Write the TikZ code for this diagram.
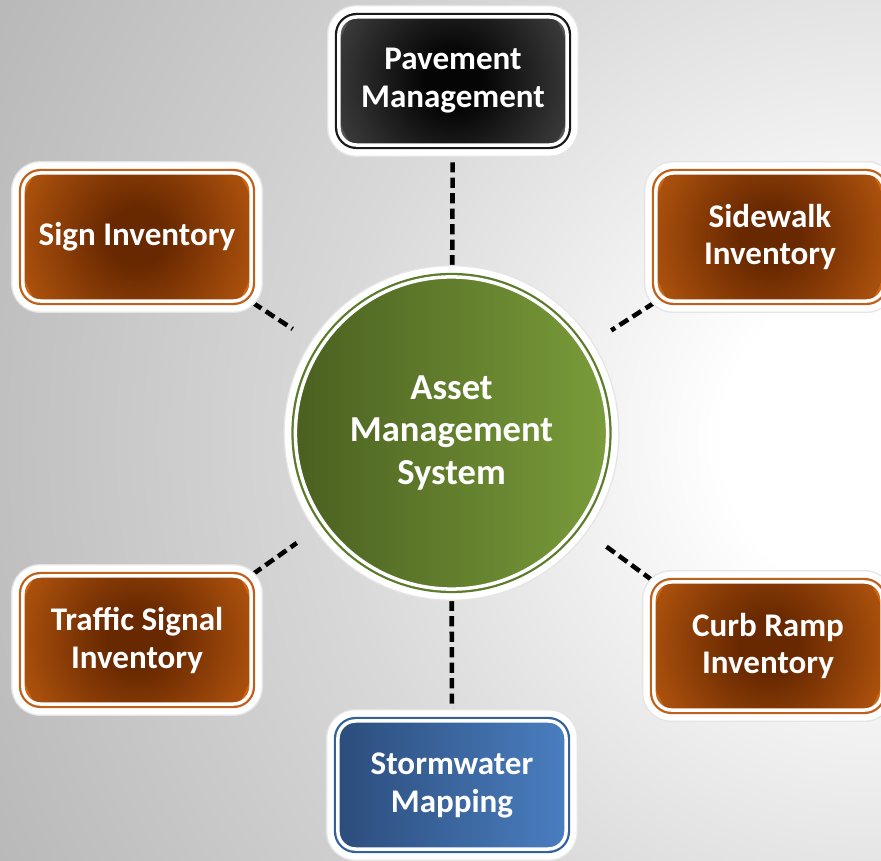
\documentclass[tikz,border=0pt]{standalone}
\usepackage{fontspec}
\setmainfont{Carlito}
\definecolor{oorange}{HTML}{CE6614}
\definecolor{obrown}{HTML}{682800}
\definecolor{oring}{HTML}{C0601A}
\definecolor{pgrey}{HTML}{555555}
\definecolor{pblack}{HTML}{050505}
\definecolor{pring}{HTML}{1A1A1A}
\definecolor{sdark}{HTML}{2C4D7C}
\definecolor{slight}{HTML}{4A7EC0}
\definecolor{sring}{HTML}{34619C}
\definecolor{gdark}{HTML}{4A6020}
\definecolor{glight}{HTML}{7A9C3A}
\definecolor{gring}{HTML}{5C7C2C}
\definecolor{bgmid}{HTML}{D8D8D8}
\definecolor{bglow}{HTML}{B2B2B2}
\definecolor{bgedge}{HTML}{A0A0A0}
\pgfdeclareradialshading{orangeglow}{\pgfpointorigin}{color(0bp)=(obrown); color(6bp)=(obrown); color(35bp)=(oorange); color(60bp)=(oorange)}
\pgfdeclareradialshading{greyglow}{\pgfpointorigin}{color(0bp)=(pblack); color(6bp)=(pblack); color(35bp)=(pgrey); color(60bp)=(pgrey)}
\pgfdeclareradialshading{backglow}{\pgfpointorigin}{color(0bp)=(white); color(4bp)=(white); color(14bp)=(bgmid); color(27bp)=(bglow); color(32bp)=(bgedge); color(50bp)=(bgedge)}
\pgfdeclarelayer{back}
\pgfdeclarelayer{links}
\pgfsetlayers{back,links,main}
\begin{document}
\begin{tikzpicture}[x=0.01cm, y=0.01cm,
  every node/.style={font=\bfseries\fontsize{9.4}{10.8}\selectfont, text=white, align=center},
  halo/.style={preaction={draw=black!10, line width=6.8pt}, preaction={draw=white, line width=6pt}},
  ring/.style={preaction={draw=#1, line width=2.3pt}},
  box/.style={halo, ring=#1, rectangle, rounded corners=5pt, minimum width=2.28cm, minimum height=1.28cm, inner sep=0pt, draw=white, line width=1pt},
  glowbox/.style={box=#1, path picture={
      \fill[oorange] (path picture bounding box.south west) rectangle (path picture bounding box.north east);
      \shade[shading=orangeglow] (path picture bounding box.center) circle (1.2cm);}},
  darkbox/.style={box=pring, path picture={
      \fill[pgrey] (path picture bounding box.south west) rectangle (path picture bounding box.north east);
      \shade[shading=greyglow] (path picture bounding box.center) circle (1.2cm);}},
  link/.style={draw=black, line width=1.3pt, dash pattern=on 2.9pt off 1.5pt},
  slant/.style={link, shorten >=0.32cm}]
\useasboundingbox (0,0) rectangle (881,-861);
% hub and the six inventories
\node[halo, ring=gring, circle, minimum size=3.12cm, inner sep=0pt, draw=white, line width=1pt, left color=gdark, right color=glight, font=\bfseries\fontsize{10.4}{12}\selectfont] (hub) at (451.5,-433) {Asset\\Management\\System};
\node[darkbox] (pave) at (453,-81) {Pavement\\Management};
\node[glowbox=oring] (sign) at (137,-237) {Sign Inventory};
\node[glowbox=oring] (walk) at (770,-237) {Sidewalk\\Inventory};
\node[glowbox=oring] (signal) at (137,-640) {Traffic Signal\\Inventory};
\node[glowbox=oring] (ramp) at (768,-646) {Curb Ramp\\Inventory};
\node[box=sring, left color=sdark, right color=slight] (storm) at (452,-785) {Stormwater\\Mapping};
% dashed links
\begin{pgfonlayer}{links}
\draw[link] (pave) -- (hub);
\draw[link] (storm) -- (hub);
\draw[slant] (sign.south east) -- (hub);
\draw[slant] (walk.south west) -- (hub);
\draw[slant] (signal.north east) -- (hub);
\draw[slant] (ramp.north west) -- (hub);
\end{pgfonlayer}
% backdrop
\begin{pgfonlayer}{back}
\clip (0,0) rectangle (881,-861);
\shade[shading=backglow] (881,-440) circle (9.9cm);
\end{pgfonlayer}
\end{tikzpicture}
\end{document}
